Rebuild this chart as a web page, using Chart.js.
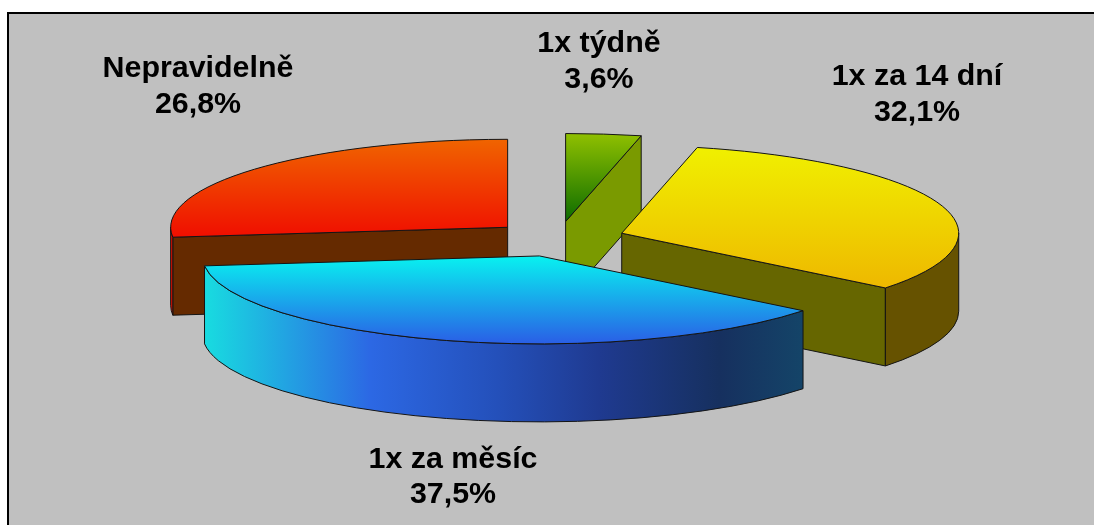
<!DOCTYPE html>
<html>
<head>
<meta charset="utf-8">
<title>Frekvence</title>
<script src="https://cdn.jsdelivr.net/npm/chart.js@4.5.1/dist/chart.umd.min.js"></script>
<style>
    html, body { margin: 0; padding: 0; background: #fff; overflow: hidden; }
    #frame {
        position: absolute;
        left: 7px;
        top: 12px;
        right: 0;
        bottom: 0;
        background: #c0c0c0;
        border-left: 2px solid #000;
        border-top: 2px solid #000;
    }
    #chart { position: absolute; left: 0; top: 0; }
</style>
</head>
<body>
<div id="frame"></div>
<canvas id="chart" width="1094" height="525"></canvas>
<script>
// Slices run clockwise from 12 o'clock
const categories = ['1x týdně', '1x za 14 dní', '1x za měsíc', 'Nepravidelně'];
const shares = [3.6, 32.1, 37.5, 26.8];

// Top face gradient, far edge to near edge
const topFar = ['#90c000', '#f0f000', '#08f2f0', '#f06400'];
const topNear = ['#0c6c00', '#eeb800', '#2a5ee6', '#f00e00'];
const cutColors = ['#7a9a00', '#666600', '#0c3f66', '#652a00'];
const rimColors = ['#7a9a00', '#665200', null, '#d81000'];
const blueRimStops = ['#18dce0', '#2c68e4', '#2450ba', '#1f3a90', '#16305f', '#144468'];
const blueRimAt = [0, 0.277, 0.49, 0.66, 0.86, 1];

const tilt = 0.261;
const depth = 78;
const explode = 67.5;
const edgeColor = '#141414';

// x, first and second baseline of each label
const labelSpots = [[599, 52, 88], [917, 85, 121], [453, 468, 503], [198, 77, 113]];

const formatShare = (v) => v.toFixed(1).replace('.', ',') + '%';

const solidPie = {
    id: 'solidPie',
    beforeDatasetsDraw(chart) {
        const ctx = chart.ctx;
        const arcs = chart.getDatasetMeta(0).data.map((arc, index) => {
            const p = arc.getProps(['x', 'y', 'startAngle', 'endAngle', 'outerRadius']);
            const mid = (p.startAngle + p.endAngle) / 2;
            return {
                index,
                r: p.outerRadius,
                start: p.startAngle,
                end: p.endAngle,
                cx: p.x + Math.cos(mid) * explode,
                cy: p.y + Math.sin(mid) * explode * tilt
            };
        });

        // Back slices first so the nearer ones cover them
        arcs.sort((a, b) => a.cy - b.cy);
        arcs.forEach((s) => {
            drawCutFaces(ctx, s);
            drawRim(ctx, s);
            drawTop(ctx, s);
        });
        return false;
    },
    // Returning false above also skips afterDatasetsDraw, so labels go here
    afterDraw(chart) {
        const ctx = chart.ctx;
        ctx.save();
        ctx.fillStyle = '#000';
        ctx.font = 'bold 30.4px "Liberation Sans", Arial, sans-serif';
        ctx.textAlign = 'center';
        categories.forEach((name, i) => {
            const spot = labelSpots[i];
            ctx.fillText(name, spot[0], spot[1]);
            ctx.fillText(formatShare(shares[i]), spot[0], spot[2]);
        });
        ctx.restore();
    }
};

function rimPoint(s, angle) {
    return [s.cx + s.r * Math.cos(angle), s.cy + s.r * tilt * Math.sin(angle)];
}

function paint(ctx, fill) {
    ctx.fillStyle = fill;
    ctx.fill();
    ctx.lineWidth = 1;
    ctx.lineJoin = 'round';
    ctx.strokeStyle = edgeColor;
    ctx.stroke();
}

// Radial walls left open by the explosion, only those turned to the viewer
function drawCutFaces(ctx, s) {
    const faces = [];
    if (Math.cos(s.start) < -1e-6) faces.push(s.start);
    if (Math.cos(s.end) > 1e-6) faces.push(s.end);
    faces.forEach((angle) => {
        const [x, y] = rimPoint(s, angle);
        ctx.beginPath();
        ctx.moveTo(s.cx, s.cy);
        ctx.lineTo(x, y);
        ctx.lineTo(x, y + depth);
        ctx.lineTo(s.cx, s.cy + depth);
        ctx.closePath();
        paint(ctx, cutColors[s.index]);
    });
}

// Outer wall, visible only along the front half of the ellipse
function drawRim(ctx, s) {
    const from = Math.max(s.start, 0);
    const to = Math.min(s.end, Math.PI);
    if (to <= from) return;

    const ry = s.r * tilt;
    ctx.beginPath();
    ctx.ellipse(s.cx, s.cy, s.r, ry, 0, from, to);
    ctx.ellipse(s.cx, s.cy + depth, s.r, ry, 0, to, from, true);
    ctx.closePath();

    let fill = rimColors[s.index];
    if (!fill) {
        const left = rimPoint(s, to)[0];
        const right = rimPoint(s, from)[0];
        fill = ctx.createLinearGradient(left, 0, right, 0);
        blueRimStops.forEach((c, i) => {
            fill.addColorStop(blueRimAt[i], c);
        });
    }
    paint(ctx, fill);
}

function drawTop(ctx, s) {
    const ry = s.r * tilt;
    ctx.beginPath();
    ctx.moveTo(s.cx, s.cy);
    ctx.ellipse(s.cx, s.cy, s.r, ry, 0, s.start, s.end);
    ctx.closePath();

    // Gradient spans the slice's own vertical extent
    let top = Math.min(s.cy, rimPoint(s, s.start)[1], rimPoint(s, s.end)[1]);
    let bottom = Math.max(s.cy, rimPoint(s, s.start)[1], rimPoint(s, s.end)[1]);
    if (s.start < -Math.PI / 2 + 1e-6 || s.end > 3 * Math.PI / 2 - 1e-6) top = s.cy - ry;
    if (s.start < Math.PI / 2 && s.end > Math.PI / 2) bottom = s.cy + ry;
    const fill = ctx.createLinearGradient(0, top, 0, bottom);
    fill.addColorStop(0, topFar[s.index]);
    fill.addColorStop(1, topNear[s.index]);
    paint(ctx, fill);
}

new Chart(document.getElementById('chart'), {
    type: 'pie',
    data: {
        labels: categories,
        datasets: [{ data: shares, borderWidth: 0 }]
    },
    options: {
        responsive: false,
        animation: false,
        rotation: 0,
        radius: 337,
        layout: { padding: { left: 22, bottom: 47 } },
        plugins: {
            legend: { display: false },
            tooltip: { enabled: false }
        }
    },
    plugins: [solidPie]
});
</script>
</body>
</html>
